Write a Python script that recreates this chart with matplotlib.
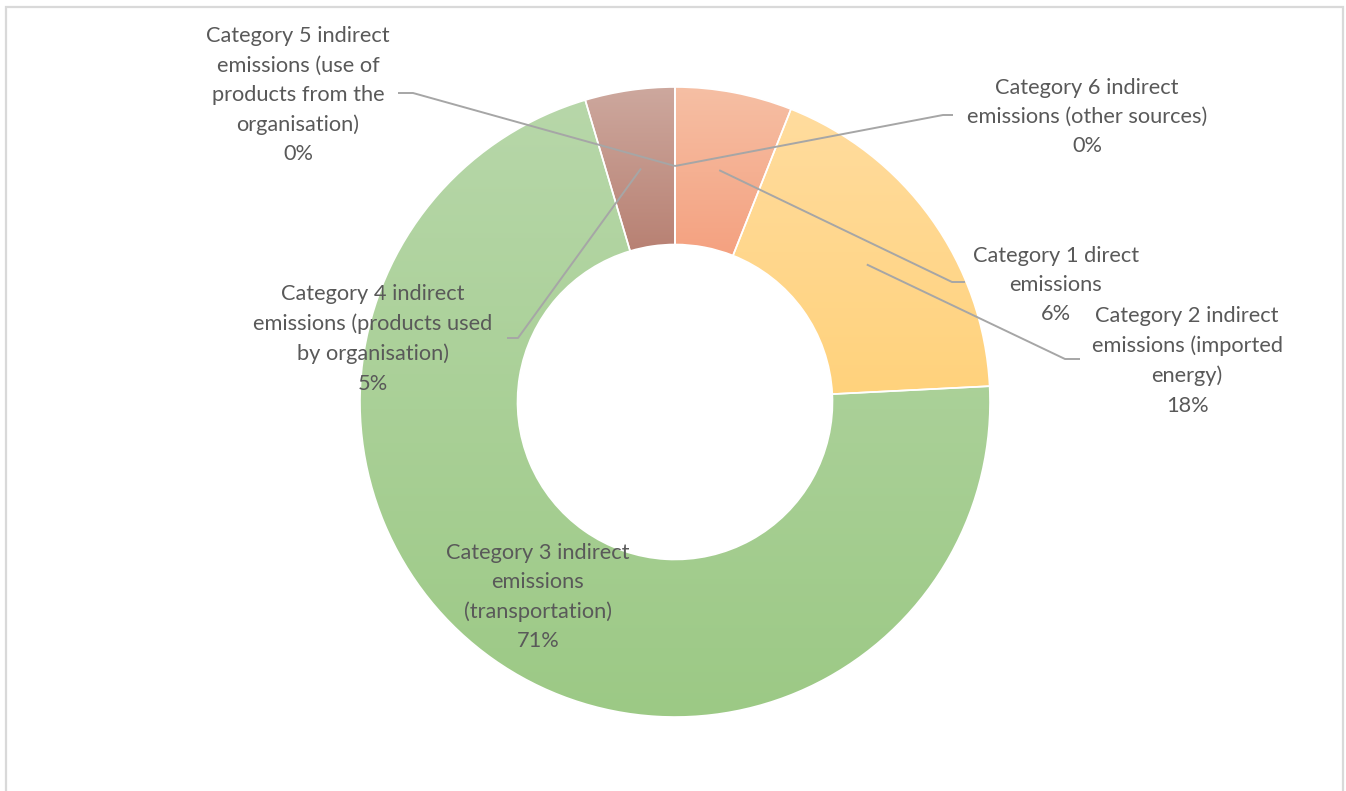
import numpy as np
import matplotlib
matplotlib.use("Agg")
import matplotlib.pyplot as plt
from matplotlib.colors import LinearSegmentedColormap
from matplotlib.patches import Rectangle

plt.rcParams['font.family'] = ['Lato', 'DejaVu Sans']

W, H = 1346, 791

# data
categories = [
    'Category 1 direct\nemissions',
    'Category 2 indirect\nemissions (imported\nenergy)',
    'Category 3 indirect\nemissions\n(transportation)',
    'Category 4 indirect\nemissions (products used\nby organisation)',
    'Category 5 indirect\nemissions (use of\nproducts from the\norganisation)',
    'Category 6 indirect\nemissions (other sources)',
]
values = [6.0, 18.2, 71.2, 4.6, 0.0, 0.0]

# gradient colours (top, bottom) for each slice
top_colors = ['#F6BFA4', '#FFDC9E', '#B7D7A9', '#CDA89E', '#C9C9C9', '#C9C9C9']
bottom_colors = ['#F4A180', '#FFD27C', '#9CC985', '#B88173', '#A5A5A5', '#A5A5A5']

# label layout, pixels from the top-left corner: text centre, elbow, line end
label_xy = [(1056, 285), (1187, 361), (538, 597), (373, 339), (298, 95), (1087, 117)]
elbows = [(952, 282), (1065, 359), None, (518, 338), (413, 93), (943, 115)]
line_ends = [(965, 282), (1080, 359), None, (507, 338), (398, 93), (953, 115)]

cx, cy, R = 675, 402, 315
text_color = '#595959'
line_color = '#A6A6A6'

fig = plt.figure(figsize=(W / 100, H / 100), dpi=100)
ax = fig.add_axes([0, 0, 1, 1])

wedges, _ = ax.pie(values, startangle=90, counterclock=False, radius=R,
                   center=(cx, H - cy), colors=top_colors,
                   wedgeprops=dict(width=R * 0.5, edgecolor='white', linewidth=1.2))

for w, top, bot, v in zip(wedges, top_colors, bottom_colors, values):
    if v == 0:
        continue
    ext = w.get_path().get_extents()
    grad = np.linspace(0, 1, 256).reshape(-1, 1)
    cmap = LinearSegmentedColormap.from_list('g', [bot, top])
    im = ax.imshow(grad, extent=(ext.x0, ext.x1, ext.y0, ext.y1), origin='lower',
                   cmap=cmap, aspect='auto', zorder=w.get_zorder() - 0.5,
                   interpolation='bilinear')
    im.set_clip_path(w)
    w.set_facecolor('none')

total = sum(values)
for i, (w, name) in enumerate(zip(wedges, categories)):
    pct = f"{round(values[i] / total * 100)}%"
    tx, ty = label_xy[i]
    ax.text(tx, H - ty, name + '\n' + pct, ha='center', va='center',
            fontsize=15.7, color=text_color, linespacing=1.57, zorder=5)
    if elbows[i] is None:
        continue
    ang = np.deg2rad((w.theta1 + w.theta2) / 2)
    ax_, ay_ = cx + 236 * np.cos(ang), (H - cy) + 236 * np.sin(ang)
    ex, ey = elbows[i]
    lx, ly = line_ends[i]
    ax.plot([ax_, ex, lx], [ay_, H - ey, H - ly], color=line_color, lw=1.4,
            zorder=4, solid_capstyle='butt')

ax.set_xlim(0, W)
ax.set_ylim(0, H)
ax.axis('off')

fig.add_artist(Rectangle((6 / W, -0.05), (1343 - 6) / W, 1.05 - 7 / H,
                         transform=fig.transFigure, fill=False,
                         edgecolor='#D9D9D9', linewidth=1.6))

fig.savefig('out.png', dpi=100)
plt.close(fig)
